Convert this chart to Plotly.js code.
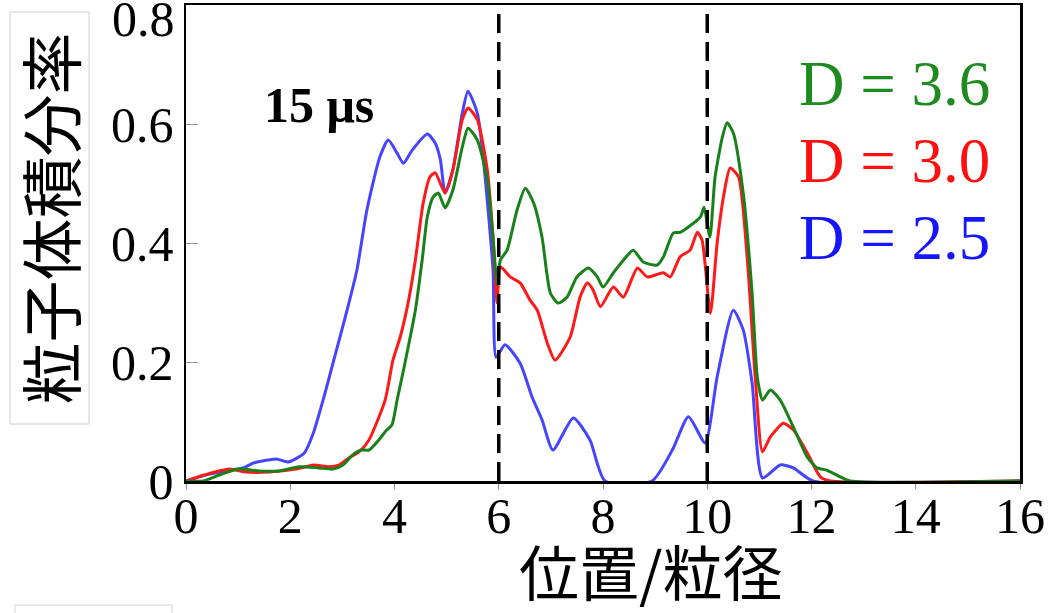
<!DOCTYPE html>
<html>
<head>
<meta charset="utf-8">
<script src="https://cdn.plot.ly/plotly-3.0.1.min.js"></script>
<style>
  html, body { margin: 0; padding: 0; background: #ffffff; }
  #chart { width: 1057px; height: 613px; }
</style>
</head>
<body>
<div id="chart"></div>
<script>
// Particle volume fraction profiles at 15 μs for three D values
const seriesNames = ['D = 2.5', 'D = 3.0', 'D = 3.6'];

const blueX = [0, 0.38, 0.83, 1.1, 1.29, 1.73, 1.96, 2.27, 2.44, 2.63, 2.82, 3.09, 3.28, 3.47, 3.72, 3.88, 4.05, 4.17, 4.34, 4.63, 4.78, 4.88, 4.97, 5.12, 5.3, 5.41, 5.59, 5.7, 5.89, 5.95, 6.12, 6.41, 6.64, 6.83, 7.04, 7.43, 7.75, 8.04, 8.94, 9.33, 9.64, 9.96, 10.19, 10.5, 10.69, 10.86, 11.06, 11.4, 11.65, 12.03, 16];
const blueY = [0, 0.01, 0.018, 0.022, 0.03, 0.037, 0.032, 0.047, 0.08, 0.136, 0.198, 0.287, 0.355, 0.455, 0.545, 0.573, 0.551, 0.534, 0.556, 0.583, 0.568, 0.54, 0.484, 0.523, 0.618, 0.655, 0.618, 0.545, 0.355, 0.208, 0.229, 0.198, 0.141, 0.103, 0.052, 0.106, 0.069, 0, 0, 0.052, 0.108, 0.064, 0.175, 0.287, 0.254, 0.165, 0.005, 0.027, 0.022, 0, 0];

const redX = [0, 0.35, 0.83, 1.15, 1.6, 2.11, 2.44, 2.74, 2.94, 3.13, 3.32, 3.51, 3.82, 3.97, 4.11, 4.26, 4.4, 4.55, 4.68, 4.78, 4.97, 5.12, 5.3, 5.41, 5.59, 5.78, 5.89, 5.97, 6.03, 6.22, 6.41, 6.6, 6.74, 6.93, 7.08, 7.37, 7.56, 7.7, 7.81, 7.95, 8.2, 8.39, 8.66, 8.85, 9.16, 9.29, 9.48, 9.67, 9.81, 9.9, 10.06, 10.19, 10.31, 10.44, 10.6, 10.77, 10.92, 11.06, 11.21, 11.46, 11.65, 11.92, 12.17, 12.36, 16];
const redY = [0, 0.01, 0.02, 0.015, 0.015, 0.02, 0.027, 0.024, 0.027, 0.039, 0.049, 0.069, 0.136, 0.203, 0.242, 0.299, 0.371, 0.467, 0.511, 0.518, 0.484, 0.523, 0.607, 0.627, 0.607, 0.523, 0.41, 0.299, 0.36, 0.343, 0.333, 0.304, 0.287, 0.232, 0.203, 0.242, 0.309, 0.333, 0.321, 0.293, 0.326, 0.309, 0.358, 0.343, 0.35, 0.343, 0.377, 0.388, 0.418, 0.405, 0.282, 0.4, 0.477, 0.526, 0.511, 0.371, 0.175, 0.049, 0.074, 0.097, 0.086, 0.047, 0.007, 0, 0];

const greenX = [0, 0.33, 0.63, 1.02, 1.4, 1.79, 2.17, 2.55, 2.82, 3.01, 3.2, 3.36, 3.51, 3.7, 3.84, 3.95, 4.05, 4.2, 4.4, 4.53, 4.63, 4.74, 4.84, 4.97, 5.12, 5.3, 5.41, 5.59, 5.78, 5.88, 5.97, 6.03, 6.16, 6.35, 6.51, 6.67, 6.83, 6.99, 7.14, 7.31, 7.5, 7.72, 7.89, 8.0, 8.2, 8.39, 8.58, 8.77, 9.04, 9.16, 9.35, 9.48, 9.67, 9.87, 9.94, 10.05, 10.15, 10.29, 10.38, 10.5, 10.69, 10.86, 10.96, 11.06, 11.21, 11.4, 11.65, 11.92, 12.11, 12.3, 12.55, 12.74, 16];
const greenY = [0, 0, 0.01, 0.02, 0.017, 0.017, 0.024, 0.022, 0.02, 0.027, 0.044, 0.052, 0.052, 0.069, 0.085, 0.094, 0.136, 0.198, 0.287, 0.371, 0.444, 0.477, 0.484, 0.459, 0.489, 0.561, 0.593, 0.573, 0.506, 0.42, 0.33, 0.371, 0.388, 0.455, 0.492, 0.467, 0.41, 0.316, 0.299, 0.309, 0.343, 0.358, 0.343, 0.326, 0.35, 0.371, 0.388, 0.368, 0.363, 0.377, 0.417, 0.418, 0.429, 0.444, 0.46, 0.41, 0.511, 0.578, 0.602, 0.585, 0.484, 0.316, 0.175, 0.136, 0.153, 0.136, 0.091, 0.04, 0.022, 0.018, 0.007, 0, 0];

// Interface positions marked with dashed lines
const boundaries = [6, 10];

// Axis ticks
const xTickVals = [0, 2, 4, 6, 8, 10, 12, 14, 16];
const yTickVals = [0, 0.2, 0.4, 0.6, 0.8];
const yTickText = ['0', '0.2', '0.4', '0.6', ''];

const lineColors = ['#4545ff', '#ff1a1a', '#1a801a'];
const labelColors = ['#1515ff', '#ff1010', '#1f8a1f'];
const labelY = [0.408, 0.538, 0.667];

const serif = 'Liberation Serif, Times New Roman, serif';
const cjk = 'Noto Sans CJK JP, sans-serif';

const xs = [blueX, redX, greenX];
const ys = [blueY, redY, greenY];

const traces = xs.map((x, i) => ({
  type: 'scatter',
  mode: 'lines',
  name: seriesNames[i],
  x: x,
  y: ys[i],
  line: { color: lineColors[i], width: 3, shape: 'spline', smoothing: 0.6 },
  hoverinfo: 'skip'
}));

const shapes = boundaries.map(b => ({
  type: 'line', xref: 'x', yref: 'paper',
  x0: b, x1: b, y0: 0, y1: 1,
  line: { color: '#000000', width: 3.5, dash: '19px,9px' },
  layer: 'above'
}));

// frame around the vertical axis title
shapes.push({
  type: 'rect', xref: 'paper', yref: 'paper',
  x0: -0.211, x1: -0.1163, y0: 0.1197, y1: 0.9853,
  line: { color: '#cfcfcf', width: 1 }, fillcolor: 'rgba(0,0,0,0)'
});
shapes.push({
  type: 'rect', xref: 'paper', yref: 'paper',
  x0: -0.205, x1: -0.0168, y0: -0.31, y1: -0.2605,
  line: { color: '#d5d5d5', width: 1 }, fillcolor: 'rgba(0,0,0,0)'
});

const annotations = seriesNames.map((name, i) => ({
  xref: 'x', yref: 'y', x: 11.73, y: labelY[i],
  xanchor: 'left', yanchor: 'middle', showarrow: false,
  text: name,
  font: { family: serif, size: 63, color: labelColors[i] }
}));

annotations.push({
  xref: 'x', yref: 'y', x: 1.45, y: 0.632,
  xanchor: 'left', yanchor: 'middle', showarrow: false,
  text: '<b>15 μs</b>',
  font: { family: serif, size: 50, color: '#000000' }
});

// top tick label of the y axis
annotations.push({
  xref: 'paper', yref: 'paper', x: -0.011, y: 1.0,
  xanchor: 'right', yanchor: 'top', yshift: 16, showarrow: false,
  text: '0.8',
  font: { family: serif, size: 50, color: '#000000' }
});

annotations.push({
  xref: 'paper', yref: 'paper', x: 0.5576, y: -0.185,
  xanchor: 'center', yanchor: 'middle', showarrow: false,
  text: '位置/粒径',
  font: { family: cjk, size: 60, color: '#000000' }
});

annotations.push({
  xref: 'paper', yref: 'paper', x: -0.1637, y: 0.5525,
  xanchor: 'center', yanchor: 'middle', showarrow: false,
  textangle: -90,
  text: '粒子体積分率',
  font: { family: cjk, size: 62, color: '#000000' }
});

const layout = {
  width: 1057, height: 613,
  margin: { l: 186, r: 37, t: 5, b: 132 },
  paper_bgcolor: '#ffffff', plot_bgcolor: '#ffffff',
  showlegend: false,
  xaxis: {
    range: [0, 16], tickvals: xTickVals, ticktext: xTickVals.map(String),
    showgrid: false, zeroline: false,
    showline: true, mirror: true, linecolor: '#000000', linewidth: 2.5,
    ticks: 'outside', ticklen: 5, tickcolor: '#888888', tickwidth: 1,
    tickfont: { family: serif, size: 50, color: '#000000' },
    ticklabelstandoff: -16,
    layer: 'below traces'
  },
  yaxis: {
    range: [0, 0.8], tickvals: yTickVals, ticktext: yTickText,
    showgrid: false, zeroline: false,
    showline: true, mirror: true, linecolor: '#000000', linewidth: 2.5,
    ticks: 'inside', ticklen: 12, tickcolor: '#999999', tickwidth: 1,
    tickfont: { family: serif, size: 50, color: '#000000' },
    layer: 'below traces'
  },
  shapes: shapes,
  annotations: annotations
};

Plotly.newPlot('chart', traces, layout, { displayModeBar: false, staticPlot: true });
</script>
</body>
</html>
